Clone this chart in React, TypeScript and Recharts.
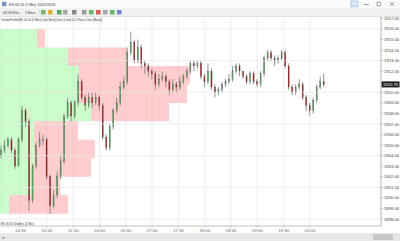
import React from "react";
import {
  ComposedChart,
  Bar,
  XAxis,
  YAxis,
  CartesianGrid,
  ReferenceArea,
  ReferenceLine,
} from "recharts";

// 4-minute bars starting 14:08 (minutes since midnight)
const barStart = 14 * 60 + 8;
const barStep = 4;
const firstOpen = 1904;

const closes = [
  1904.5, 1905, 1905.5, 1904.5, 1903, 1905.5, 1908.25, 1907.25, 1899.75, 1903,
  1905, 1905.5, 1905.5, 1902, 1899.25, 1900.25, 1902, 1903.5, 1907.75, 1909,
  1907.75, 1909, 1911, 1909.5, 1908.75, 1909.5, 1909, 1909.5, 1908.75, 1905.75,
  1904.75, 1906.75, 1908.25, 1909, 1910.5, 1911, 1913.75, 1914.75, 1913, 1914.25,
  1912.75, 1912.5, 1912, 1911.75, 1910.75, 1911.25, 1911.5, 1911, 1910.25, 1910.75,
  1910.5, 1911, 1911.5, 1912, 1912.75, 1912.5, 1912.75, 1911.5, 1911, 1912,
  1910.5, 1910, 1910.25, 1910.75, 1911, 1911.25, 1912, 1912.5, 1912, 1911.5,
  1911, 1911.75, 1911, 1910.75, 1911.75, 1913.25, 1913.75, 1913.25, 1913, 1913.25,
  1913.75, 1912.5, 1910.5, 1910, 1910.5, 1910.75, 1909.5, 1908.75, 1908.25, 1909.25,
  1910.5, 1911, 1910.75,
];

const highs = [
  1905, 1905.5, 1905.75, 1905.75, 1904.75, 1905.75, 1908.75, 1908.5, 1907.5, 1903.25,
  1905.25, 1906.25, 1906, 1905.75, 1902.25, 1900.75, 1902.5, 1904, 1908, 1909.5,
  1909.25, 1909.25, 1911.75, 1911.25, 1909.75, 1910, 1910, 1910, 1909.75, 1909,
  1906, 1907, 1908.5, 1909.5, 1911, 1911.5, 1914.25, 1915.75, 1915, 1915,
  1914.5, 1913, 1912.75, 1912.25, 1912, 1911.75, 1912, 1911.75, 1911.25, 1911.25,
  1911, 1911.5, 1911.75, 1912.25, 1913, 1913, 1913, 1913, 1911.75, 1912.75,
  1912.25, 1910.75, 1910.5, 1911, 1911.25, 1911.75, 1912.5, 1912.75, 1912.75, 1912,
  1911.75, 1912, 1912, 1911.25, 1912, 1913.5, 1914, 1914, 1913.5, 1913.5,
  1914, 1914, 1912.75, 1910.75, 1910.75, 1911.25, 1911, 1909.75, 1909, 1909.5,
  1910.75, 1911.5, 1911.75,
];

const lows = [
  1903.75, 1904.25, 1904.75, 1904.25, 1902.75, 1903, 1905.25, 1906.75, 1898.75, 1899.5,
  1902.75, 1904.75, 1905, 1901.75, 1898.5, 1899, 1900, 1901.75, 1903.25, 1907.5,
  1907.25, 1907.5, 1908.75, 1909.25, 1908.25, 1908.5, 1908.5, 1908.75, 1908.25, 1905.5,
  1904.5, 1904.5, 1906.5, 1908, 1908.75, 1910.25, 1910.75, 1913.5, 1912.75, 1912.75,
  1912.25, 1911.75, 1911.5, 1911.25, 1910.25, 1910.5, 1911, 1910.5, 1909.75, 1910,
  1910, 1910.25, 1910.75, 1911.25, 1911.75, 1912, 1912.25, 1911.25, 1910.5, 1910.75,
  1910.25, 1909.5, 1909.75, 1910, 1910.5, 1910.75, 1911, 1911.75, 1911.5, 1911.25,
  1910.75, 1910.75, 1910.75, 1910.5, 1910.5, 1911.5, 1913, 1913, 1912.5, 1912.75,
  1913, 1912.25, 1910.25, 1909.75, 1909.75, 1910.25, 1909.25, 1908.25, 1907.75, 1908,
  1909, 1910.25, 1910.5,
];

// volume profile rows (bottom price of each row, 1.75 pts tall)
const rowLows = [1914.25, 1912.5, 1910.75, 1909, 1907.25, 1905.5, 1903.75, 1902, 1900.25, 1898.5];
const rowHeight = 1.75;
const buyVolume = [3700, 6800, 7900, 7900, 9100, 3400, 3400, 3400, 3400, 900];
const sellVolume = [800, 5900, 11100, 10800, 7800, 4400, 6100, 5700, 2600, 5900];
const volumeFullWidth = 38100; // volume that would span the whole panel

const timeTicks = [870, 900, 930, 960, 990, 1020, 1050, 1080, 1110, 1140, 1170, 1200];
// 1911.00 sits under the last-price tag, so it is not labelled
const priceTicks = [
  1898, 1899, 1900, 1901, 1902, 1903, 1904, 1905, 1906, 1907,
  1908, 1909, 1910, 1912, 1913, 1914, 1915, 1916, 1917,
];
const gridPrices = [1898, 1901, 1904, 1907, 1910, 1913, 1916];

const timeDomain = [846.6, 1281];
const priceDomain = [1897.34, 1917.23];

const bars = closes.map((c, i) => ({
  t: barStart + i * barStep,
  o: i === 0 ? firstOpen : closes[i - 1],
  c,
  h: highs[i],
  l: lows[i],
  range: [lows[i], highs[i]],
}));

// profile is drawn from the left edge, volume mapped onto the time axis
const volToX = (v: number) => timeDomain[0] + (v / volumeFullWidth) * (timeDomain[1] - timeDomain[0]);

const lastClose = closes[closes.length - 1];
const font = "'Liberation Sans', Arial, sans-serif";

const fmtTime = (m: number) => `${Math.floor(m / 60)}:${String(m % 60).padStart(2, "0")}`;

const Candle = (props: any) => {
  const { x, y, width, height, payload } = props;
  if (x == null || !payload) return null;
  const { o, c, h, l } = payload;
  const top0 = Math.min(y, y + height);
  const hgt = Math.abs(height);
  const span = h - l || 1;
  const py = (p: number) => top0 + ((h - p) / span) * hgt;
  const cx = x + width / 2;
  const bTop = py(Math.max(o, c));
  const bBot = py(Math.min(o, c));
  const up = c >= o;
  return (
    <g>
      <line x1={cx} x2={cx} y1={top0} y2={top0 + hgt} stroke="#7a7a7a" strokeWidth={0.8} />
      <rect
        x={cx - 0.6}
        y={bTop}
        width={1.2}
        height={Math.max(bBot - bTop, 0.6)}
        fill={up ? "#5a9e5a" : "#a81c1c"}
        stroke="#555"
        strokeWidth={0.2}
      />
    </g>
  );
};

const PriceTag = ({ viewBox, text }: any) => {
  if (!viewBox) return null;
  const x = viewBox.x + viewBox.width + 0.5;
  const y = viewBox.y;
  return (
    <g>
      <rect x={x} y={y - 3} width={18} height={6} fill="#1c1c1c" />
      <text x={x + 1.5} y={y + 1.5} fontSize={4.2} fill="#fff" fontFamily={font}>
        {text}
      </text>
    </g>
  );
};

function Chrome() {
  const icons = [
    { x: 41, c: "#6aa84f" },
    { x: 48, c: "#e0a020" },
    { x: 57, c: "#3c9a3c" },
    { x: 63, c: "#999" },
    { x: 72, c: "#777" },
    { x: 82, c: "#888" },
    { x: 89, c: "#4caf50" },
    { x: 96, c: "#d04040" },
    { x: 103, c: "#999" },
    { x: 110, c: "#4caf50" },
    { x: 117, c: "#5577cc" },
  ];
  return (
    <svg
      width={400}
      height={241}
      style={{ position: "absolute", left: 0, top: 0, pointerEvents: "none" }}
      fontFamily={font}
    >
      <rect x={0} y={0} width={400} height={8} fill="#fbfbfb" />
      <rect x={2} y={1.8} width={4.5} height={4.5} fill="#7a95c4" />
      <text x={9} y={5.6} fontSize={3.6} fill="#333">ES 03-16 (1 Min)  10/02/2016</text>
      <rect x={351} y={1} width={7} height={6} fill="#dde9f8" stroke="#7aa7d8" strokeWidth={0.5} />
      <text x={353} y={5.6} fontSize={3.5} fill="#333">↓</text>
      <line x1={364} x2={369} y1={4.5} y2={4.5} stroke="#555" strokeWidth={0.6} />
      <rect x={377} y={2.3} width={3.6} height={3.6} fill="none" stroke="#555" strokeWidth={0.5} />
      <line x1={390} x2={394} y1={2.3} y2={6} stroke="#555" strokeWidth={0.6} />
      <line x1={394} x2={390} y1={2.3} y2={6} stroke="#555" strokeWidth={0.6} />

      <rect x={0} y={8} width={400} height={8.5} fill="#f1f1f1" />
      <line x1={0} x2={400} y1={16.5} y2={16.5} stroke="#d4d4d4" strokeWidth={0.6} />
      <text x={3} y={13.6} fontSize={3.4} fill="#333">03-16 ES ▾</text>
      <text x={25} y={13.6} fontSize={3.4} fill="#333">1 Min ▾</text>
      <line x1={39.5} x2={39.5} y1={9.5} y2={15} stroke="#c8c8c8" strokeWidth={0.5} />
      {icons.map((ic) => (
        <rect key={ic.x} x={ic.x} y={10} width={4.5} height={4.5} fill={ic.c} opacity={0.85} />
      ))}

      <text x={1} y={21.2} fontSize={2.8} fill="#333">
        VolumeProfile(ES 03-16 (1 Min),Color [Red],Color [Lime],10,1,False,Color [Black])
      </text>
      <text x={1} y={224.6} fontSize={2.8} fill="#333">ES 03-16 (Globex) (1 Min)</text>

      <rect x={0} y={233} width={400} height={8} fill="#e8e8e8" />
      <text x={2} y={238.8} fontSize={4} fill="#555">◂</text>
      <rect x={373} y={234} width={20} height={6} fill="#c9c9c9" />
    </svg>
  );
}

export default function App() {
  return (
    <div style={{ position: "absolute", left: 0, top: 0, width: 400, height: 241, background: "#fff" }}>
      <ComposedChart
        width={400}
        height={241}
        data={bars}
        margin={{ top: 16, right: 0, bottom: 7, left: 0 }}
      >
        <CartesianGrid horizontal={false} stroke="#e6e6e6" strokeWidth={0.7} />
        <XAxis
          dataKey="t"
          type="number"
          domain={timeDomain}
          allowDataOverflow
          ticks={timeTicks}
          interval={0}
          tickFormatter={fmtTime}
          height={8}
          tickSize={2}
          tickMargin={0.5}
          tick={{ fontSize: 4.4, fill: "#666", fontFamily: font }}
          axisLine={{ stroke: "#a8a8a8", strokeWidth: 0.7 }}
          tickLine={{ stroke: "#a8a8a8", strokeWidth: 0.5 }}
        />
        <YAxis
          orientation="right"
          type="number"
          domain={priceDomain}
          allowDataOverflow
          ticks={priceTicks}
          interval={0}
          tickFormatter={(v: number) => v.toFixed(2)}
          width={19}
          tickSize={2}
          tickMargin={1}
          tick={{ fontSize: 4.2, fill: "#444", fontFamily: font, textAnchor: "start" }}
          axisLine={{ stroke: "#a8a8a8", strokeWidth: 0.7 }}
          tickLine={{ stroke: "#777", strokeWidth: 0.5 }}
        />
        {gridPrices.map((p) => (
          <ReferenceLine key={`g${p}`} y={p} stroke="#e6e6e6" strokeWidth={0.7} />
        ))}
        {rowLows.map((lo, i) => (
          <ReferenceArea
            key={`b${i}`}
            x1={volToX(0)}
            x2={volToX(buyVolume[i])}
            y1={lo}
            y2={lo + rowHeight}
            fill="#8cf58c"
            fillOpacity={0.45}
            stroke="none"
          />
        ))}
        {rowLows.map((lo, i) => (
          <ReferenceArea
            key={`s${i}`}
            x1={volToX(buyVolume[i])}
            x2={volToX(buyVolume[i] + sellVolume[i])}
            y1={lo}
            y2={lo + rowHeight}
            fill="#ff9090"
            fillOpacity={0.45}
            stroke="none"
          />
        ))}
        <Bar dataKey="range" barSize={3} shape={<Candle />} isAnimationActive={false} />
        <ReferenceLine
          y={lastClose}
          stroke="none"
          label={(p: any) => <PriceTag viewBox={p.viewBox} text={lastClose.toFixed(2)} />}
        />
      </ComposedChart>
      <Chrome />
    </div>
  );
}
